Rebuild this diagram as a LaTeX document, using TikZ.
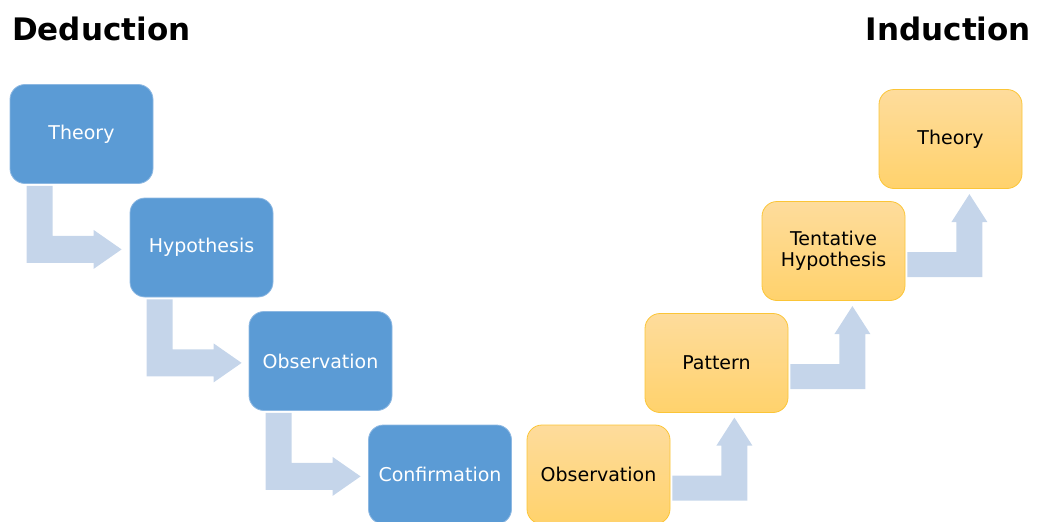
\documentclass[tikz,border=0pt]{standalone}
\usepackage{fontspec}
\setmainfont{DejaVu Sans}
\definecolor{boxblue}{HTML}{5B9BD5}
\definecolor{boxblueline}{HTML}{8DB8E2}
\definecolor{arrowfill}{HTML}{C5D5EA}
\definecolor{ortop}{HTML}{FEDC9C}
\definecolor{orbot}{HTML}{FFD26C}
\definecolor{orline}{HTML}{FBC537}
\begin{document}
\begin{tikzpicture}[x=1pt,y=-1pt,
  stepbase/.style={rounded corners=15pt, minimum width=143pt, minimum height=99pt, inner sep=0pt, align=center,
    font=\fontsize{19}{21.5}\selectfont},
  bluebox/.style={stepbase, fill=boxblue, draw=boxblueline, line width=0.8pt, text=white},
  orangebox/.style={stepbase, top color=ortop, bottom color=orbot, draw=orline, line width=0.8pt, text=black},
  bentarrow/.style={fill=arrowfill, draw=none},
  title/.style={font=\fontsize{31}{36}\selectfont\bfseries, inner sep=0pt}]
\useasboundingbox (0,0) rectangle (1037,522);
% titles
\node[title, anchor=west] (ded) at (12,29) {Deduction};
\node[title, anchor=east] (ind) at (1031,29) {Induction};
% deduction boxes
\node[bluebox] (d1) at (81.5,134) {Theory};
\node[bluebox] (d2) at (201.5,247.5) {Hypothesis};
\node[bluebox] (d3) at (320.5,361) {Observation};
\node[bluebox] (d4) at (440,474.5) {Confirmation};
% induction boxes
\node[orangebox] (i1) at (598.5,474.5) {Observation};
\node[orangebox] (i2) at (716.5,363) {Pattern};
\node[orangebox] (i3) at (833.5,251) {Tentative\\Hypothesis};
\node[orangebox] (i4) at (950.5,139) {Theory};
% deduction arrows (down, then right)
\foreach \s in {d1,d2,d3}{
  \fill[bentarrow, shift={(\s.south west)}]
    (17,2) -- (43,2) -- (43,52) -- (84,52) -- (84,46) -- (112,65.5) -- (84,85) -- (84,79) -- (17,79) -- cycle;
}
% induction arrows (right, then up)
\foreach \s in {i1,i2,i3}{
  \fill[bentarrow, shift={(\s.north east)}]
    (2,51) -- (51,51) -- (51,21) -- (46,21) -- (64,-7) -- (82,21) -- (77,21) -- (77,76) -- (2,76) -- cycle;
}
\end{tikzpicture}
\end{document}
